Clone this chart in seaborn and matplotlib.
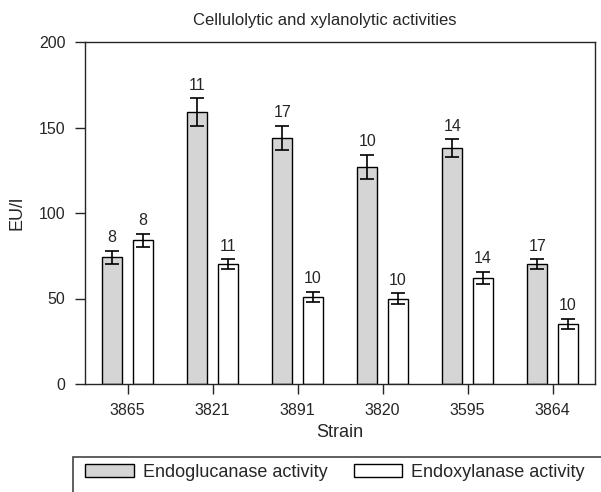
import numpy as np
import pandas as pd
import seaborn as sns
import matplotlib.pyplot as plt
from matplotlib.patches import Rectangle

sns.set_style("ticks")
plt.rcParams['font.family'] = ['Liberation Sans', 'DejaVu Sans']

strains = ["3865", "3821", "3891", "3820", "3595", "3864"]
gluc = [74, 159, 144, 127, 138, 70]
gluc_err = [4, 8, 7, 7, 5, 3]
gluc_n = [8, 11, 17, 10, 14, 17]
xyl = [84, 70, 51, 50, 62, 35]
xyl_err = [4, 3, 3, 3, 3.5, 3]
xyl_n = [8, 11, 10, 10, 14, 10]
series = ["Endoglucanase activity", "Endoxylanase activity"]

df = pd.DataFrame({
    "Strain": strains * 2,
    "EU/l": gluc + xyl,
    "err": gluc_err + xyl_err,
    "n": gluc_n + xyl_n,
    "Activity": [series[0]] * 6 + [series[1]] * 6,
})

fig = plt.figure(figsize=(6.01, 4.92), dpi=100)
ax = fig.add_axes([85 / 601, 1 - 384 / 492, 510 / 601, 342 / 492])
sns.barplot(df, x="Strain", y="EU/l", hue="Activity", order=strains,
            hue_order=series, palette={series[0]: "#d5d5d5", series[1]: "white"},
            width=0.72, gap=0.36, edgecolor="black", linewidth=1.0,
            legend=False, ax=ax)

for cont, s in zip(ax.containers, series):
    sub = df[df["Activity"] == s].set_index("Strain").loc[strains]
    xs = [b.get_x() + b.get_width() / 2 for b in cont]
    ax.errorbar(xs, sub["EU/l"], yerr=sub["err"], fmt="none", ecolor="black",
                elinewidth=1.2, capsize=4.8, capthick=1.2)
    for x, v, e, n in zip(xs, sub["EU/l"], sub["err"], sub["n"]):
        ax.annotate(str(n), (x, v + e), xytext=(0, 4), textcoords="offset points",
                    ha="center", va="bottom", fontsize=11.5)

ax.set_ylim(0, 200)
ax.set_xlim(-0.5, 5.5)
ax.set_yticks([0, 50, 100, 150, 200])
ax.tick_params(axis="both", direction="out", length=7.5, width=1,
               labelsize=11.5, pad=6.5)
ax.set_xlabel("Strain", fontsize=13, labelpad=4)
ax.set_ylabel("EU/l", fontsize=13, labelpad=10)
ax.set_title("Cellulolytic and xylanolytic activities", fontsize=12, pad=12,
             x=(325 - 85) / 510)
for sp in ax.spines.values():
    sp.set_linewidth(1.0)

# legend box, cut off by the figure edge like the reference
fig.patches.append(Rectangle((73 / 601, -0.1), 1.0, 1 - 456.7 / 492 + 0.1,
                             transform=fig.transFigure, fill=False,
                             edgecolor="#444444", linewidth=1.2))
handles = [Rectangle((0, 0), 1, 1, facecolor="#d5d5d5", edgecolor="black"),
           Rectangle((0, 0), 1, 1, facecolor="white", edgecolor="black")]
fig.legend(handles, series, loc="center left", ncol=2, frameon=False,
           bbox_to_anchor=(85 / 601, 1 - 472.3 / 492), borderpad=0,
           borderaxespad=0, fontsize=13, handlelength=2.7, handleheight=0.75,
           handletextpad=0.5, columnspacing=1.45)

fig.savefig("out.png", dpi=100)
